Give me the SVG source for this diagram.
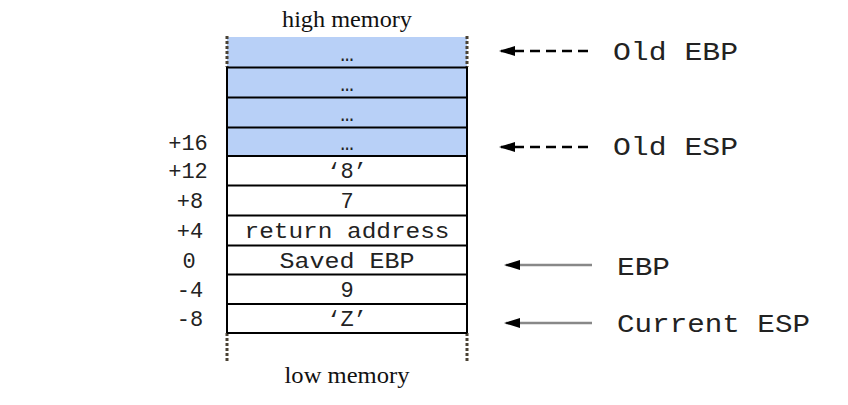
<svg xmlns="http://www.w3.org/2000/svg" width="848" height="405" viewBox="0 0 848 405">
<style>
.mono{font-family:"Liberation Mono","Courier New",monospace;fill:#222}
.cell{font-size:22px;text-anchor:middle}
.off{font-size:22px;text-anchor:middle}
.lbl{font-size:26px}
.serif{font-family:"Liberation Serif","Times New Roman",serif;font-size:23px;text-anchor:middle;fill:#111}
.row{stroke:#000;stroke-width:2}
.blue{fill:#b8d0f7}
.dots{stroke:#4a4234;stroke-width:3;stroke-dasharray:3,2;fill:none}
</style>
<defs>
<marker id="ah" markerWidth="16" markerHeight="12" refX="14" refY="6" orient="auto" markerUnits="userSpaceOnUse">
<path d="M0,1 L16,6 L0,11 Z" fill="#000"/>
</marker>
</defs>
<text class="serif" x="347" y="27" textLength="130" lengthAdjust="spacingAndGlyphs">high memory</text>
<text class="serif" x="347" y="383" textLength="125" lengthAdjust="spacingAndGlyphs">low memory</text>
<g id="stack">
<rect x="227" y="37" width="240" height="30.5" class="blue"/>
<rect x="227" y="67.5" width="240" height="88.5" class="blue"/>
<line class="dots" x1="227" y1="36" x2="227" y2="67"/>
<line class="dots" x1="467" y1="36" x2="467" y2="67"/>
<line class="dots" x1="227" y1="333" x2="227" y2="363"/>
<line class="dots" x1="467" y1="333" x2="467" y2="363"/>
<g class="row">
<line x1="227" y1="67.5" x2="467" y2="67.5"/>
<line x1="227" y1="97.5" x2="467" y2="97.5"/>
<line x1="227" y1="127.5" x2="467" y2="127.5"/>
<line x1="227" y1="156" x2="467" y2="156"/>
<line x1="227" y1="185.5" x2="467" y2="185.5"/>
<line x1="227" y1="215.5" x2="467" y2="215.5"/>
<line x1="227" y1="245.5" x2="467" y2="245.5"/>
<line x1="227" y1="274.5" x2="467" y2="274.5"/>
<line x1="227" y1="304" x2="467" y2="304"/>
<line x1="227" y1="333" x2="467" y2="333"/>
<line x1="227" y1="67" x2="227" y2="333"/>
<line x1="467" y1="67" x2="467" y2="333"/>
</g>
</g>
<g id="cells" class="mono cell">
<text x="347" y="61">…</text>
<text x="347" y="91">…</text>
<text x="347" y="121">…</text>
<text x="347" y="150">…</text>
<text x="347" y="178">‘8’</text>
<text x="347" y="208">7</text>
<text x="347" y="238" textLength="205" lengthAdjust="spacingAndGlyphs">return address</text>
<text x="347" y="268" textLength="135" lengthAdjust="spacingAndGlyphs">Saved EBP</text>
<text x="347" y="297">9</text>
<text x="347" y="326">‘Z’</text>
</g>
<g id="offsets" class="mono off">
<text x="188" y="150">+16</text>
<text x="188" y="178">+12</text>
<text x="190" y="208">+8</text>
<text x="190" y="238">+4</text>
<text x="189" y="268">0</text>
<text x="190" y="297">-4</text>
<text x="190" y="326">-8</text>
</g>
<g id="connectors">
<line x1="588" y1="51" x2="501" y2="51" stroke="#000" stroke-width="2.5" stroke-dasharray="10,6" marker-end="url(#ah)"/>
<line x1="588" y1="147" x2="501" y2="147" stroke="#000" stroke-width="2.5" stroke-dasharray="10,6" marker-end="url(#ah)"/>
<line x1="592" y1="265" x2="506" y2="265" stroke="#888" stroke-width="2.5" marker-end="url(#ah)"/>
<line x1="592" y1="323" x2="506" y2="323" stroke="#888" stroke-width="2.5" marker-end="url(#ah)"/>
</g>
<g id="labels" class="mono lbl">
<text x="613" y="60" textLength="125" lengthAdjust="spacingAndGlyphs">Old EBP</text>
<text x="613" y="155" textLength="125" lengthAdjust="spacingAndGlyphs">Old ESP</text>
<text x="617" y="275" textLength="53" lengthAdjust="spacingAndGlyphs">EBP</text>
<text x="617" y="332" textLength="193" lengthAdjust="spacingAndGlyphs">Current ESP</text>
</g>
</svg>
